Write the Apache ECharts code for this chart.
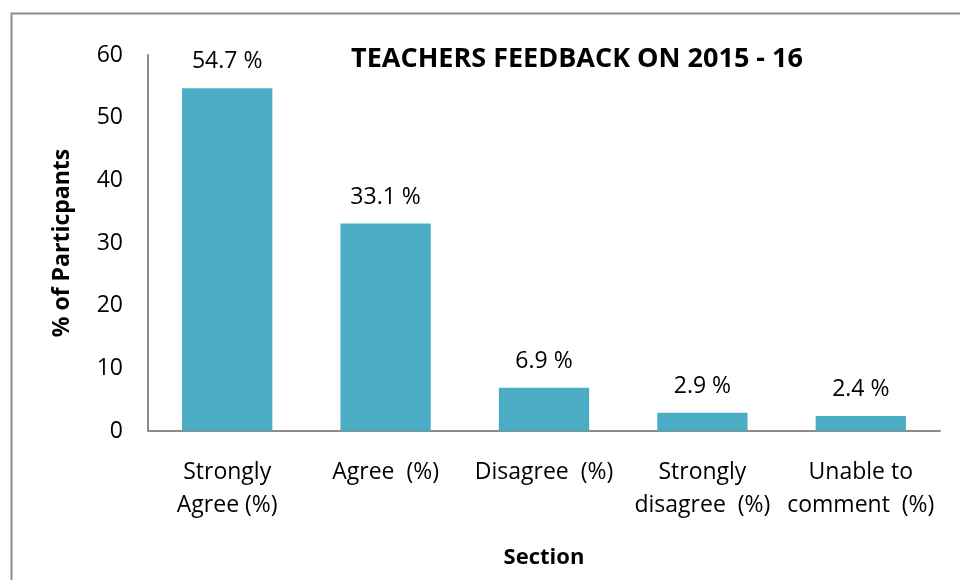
<!DOCTYPE html>
<html>
<head>
<meta charset="utf-8">
<script src="https://cdn.jsdelivr.net/npm/echarts@6/dist/echarts.min.js"></script>
<style>
  html, body { margin: 0; padding: 0; background: #fff; }
  #chart { width: 960px; height: 580px; }
</style>
</head>
<body>
<div id="chart"></div>
<script>
// data
var categories = ['Strongly\nAgree (%)', 'Agree  (%)', 'Disagree  (%)', 'Strongly\ndisagree  (%)', 'Unable to\ncomment  (%)'];
var values = [54.7, 33.1, 6.9, 2.9, 2.4];
var yTicks = [0, 10, 20, 30, 40, 50, 60];

var font = "'Open Sans', 'Noto Sans', sans-serif";
var chart = echarts.init(document.getElementById('chart'));

var option = {
  animation: false,
  backgroundColor: '#fff',
  title: {
    text: 'TEACHERS FEEDBACK ON 2015 - 16',
    left: 572,
    top: 41,
    textAlign: 'center',
    textStyle: { fontFamily: font, fontWeight: 'bold', fontSize: 27, color: '#000' }
  },
  graphic: [{
    type: 'rect',
    left: 9, top: 11,
    shape: { width: 1000, height: 640 },
    style: { fill: 'none', stroke: '#8c8c8c', lineWidth: 2 }
  }],
  grid: { left: 148, right: 20, top: 55, bottom: 149 },
  xAxis: {
    type: 'category',
    data: categories,
    name: 'Section',
    nameLocation: 'middle',
    nameGap: 116,
    nameTextStyle: { fontFamily: font, fontWeight: 'bold', fontSize: 22, color: '#000' },
    axisLine: { lineStyle: { color: '#8c8c8c', width: 2 } },
    axisTick: { show: false },
    axisLabel: { fontFamily: font, fontSize: 23, color: '#000', lineHeight: 33, margin: 25, interval: 0 }
  },
  yAxis: {
    type: 'value',
    min: yTicks[0],
    max: yTicks[yTicks.length - 1],
    interval: 10,
    name: '% of Particpants',
    nameLocation: 'middle',
    nameGap: 74,
    nameTextStyle: { fontFamily: font, fontWeight: 'bold', fontSize: 23, color: '#000' },
    axisLine: { show: true, lineStyle: { color: '#8c8c8c', width: 2 } },
    axisTick: { show: false },
    splitLine: { show: false },
    axisLabel: { fontFamily: font, fontSize: 23, color: '#000', margin: 25 }
  },
  series: [{
    type: 'bar',
    data: values,
    barWidth: '57%',
    itemStyle: { color: '#4bacc6' },
    label: {
      show: true,
      position: 'top',
      distance: 15,
      formatter: function (p) { return p.value.toFixed(1) + ' %'; },
      fontFamily: font, fontSize: 23, color: '#000'
    }
  }]
};

chart.setOption(option);
</script>
</body>
</html>
